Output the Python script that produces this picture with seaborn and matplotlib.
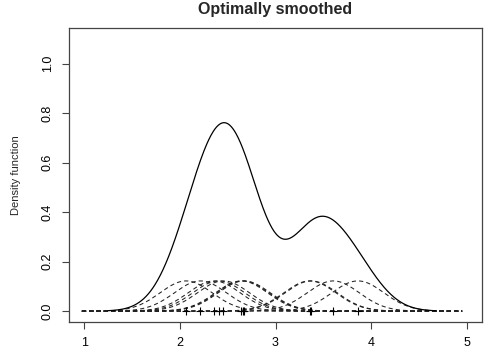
import numpy as np
import pandas as pd
import matplotlib
matplotlib.use("Agg")
import matplotlib.pyplot as plt
import seaborn as sns

# Observations (shown as "+" marks on the baseline)
obs = [2.065, 2.215, 2.358, 2.406, 2.455, 2.644, 2.658, 2.672,
       3.359, 3.373, 3.604, 3.862]
bandwidth = 0.2725          # Gaussian kernel bandwidth
x_ticks = [1, 2, 3, 4, 5]
y_ticks = [0.0, 0.2, 0.4, 0.6, 0.8, 1.0]
y_tick_labels = ["0.0", "0.2", "0.4", "0.6", "0.8", "1.0"]

sns.set_theme(style="ticks")
plt.rcParams["font.family"] = ["Liberation Sans", "DejaVu Sans"]

fig = plt.figure(figsize=(5, 3.5), dpi=100)
ax = fig.add_axes([69 / 500, 1 - 322 / 350, (482 - 69) / 500, (322 - 28) / 350])

x = np.asarray(obs)
n = len(x)
h = bandwidth


def kernel(grid, centre):
    return np.exp(-0.5 * ((grid - centre) / h) ** 2) / (h * np.sqrt(2 * np.pi)) / n


# individual scaled kernels (dashed)
grid_k = np.linspace(x.min() - 4 * h, x.max() + 4 * h, 600)
for xi in x:
    sns.lineplot(x=grid_k, y=kernel(grid_k, xi), ax=ax, color="#222222",
                 lw=0.75, estimator=None, sort=False)
    ax.lines[-1].set_dashes((4, 3))

# kernel density estimate (sum of kernels)
grid_d = np.linspace(x.min() - 3 * h, x.max() + 3 * h, 600)
dens = sum(kernel(grid_d, xi) for xi in x)
sns.lineplot(x=grid_d, y=dens, ax=ax, color="black", lw=0.9,
             estimator=None, sort=False)

# observations
sns.scatterplot(x=x, y=np.zeros(n), ax=ax, marker="+", color="black",
                s=28, linewidth=0.8, zorder=5)

ax.set_xlim(0.84, 5.16)
ax.set_ylim(-0.044, 1.144)
ax.set_xticks(x_ticks)
ax.set_xticklabels([str(t) for t in x_ticks])
ax.set_yticks(y_ticks)
ax.set_yticklabels(y_tick_labels, rotation=90, va="center")

for sp in ax.spines.values():
    sp.set_visible(True)
    sp.set_linewidth(0.9)
    sp.set_color("#444444")

ax.tick_params(axis="both", direction="out", length=5, width=0.8,
               color="#444444", labelsize=9, pad=6, labelcolor="black")

ax.set_xlabel("")
ax.set_ylabel("Density function", fontsize=8, labelpad=15)
ax.set_title("Optimally smoothed", fontsize=11.5, fontweight="bold", pad=10)

fig.savefig("out.png", dpi=100)
